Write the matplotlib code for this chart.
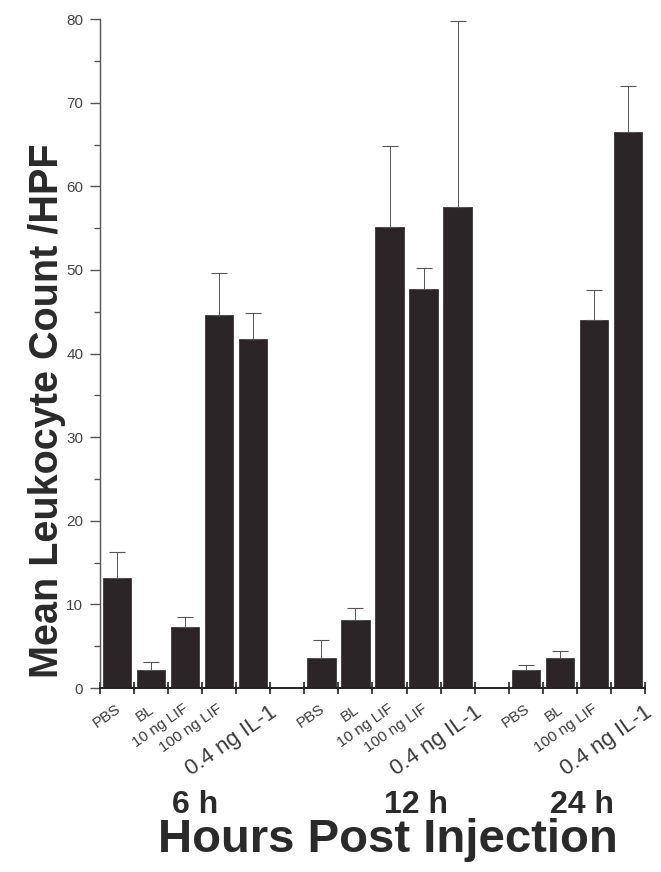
import numpy as np
import matplotlib.pyplot as plt
from matplotlib import transforms
from matplotlib.ticker import MultipleLocator

plt.rcParams["font.family"] = ["Liberation Sans", "DejaVu Sans"]

# data
times = ["6 h", "12 h", "24 h"]
labels_6h = ["PBS", "BL", "10 ng LIF", "100 ng LIF", "0.4 ng IL-1"]
labels_12h = ["PBS", "BL", "10 ng LIF", "100 ng LIF", "0.4 ng IL-1"]
labels_24h = ["PBS", "BL", "100 ng LIF", "0.4 ng IL-1"]
means_6h = [13.2, 2.2, 7.3, 44.6, 41.8]
means_12h = [3.6, 8.1, 55.1, 47.7, 57.5]
means_24h = [2.2, 3.6, 44.0, 66.5]
err_6h = [3.1, 0.9, 1.2, 5.1, 3.0]
err_12h = [2.1, 1.5, 9.7, 2.5, 22.3]
err_24h = [0.5, 0.8, 3.6, 5.5]

groups = [
    (labels_6h, means_6h, err_6h),
    (labels_12h, means_12h, err_12h),
    (labels_24h, means_24h, err_24h),
]

bar_color = "#2b2527"
text_color = "#2a2a2a"

fig = plt.figure(figsize=(6.61, 8.72), dpi=100)
ax = fig.add_axes([0.151, 0.211, 0.825, 0.767])

# lay the groups out with one empty slot between them
pos, labs, vals, errs, centers = [], [], [], [], []
offset = 0
for labels, means, err in groups:
    p = offset + np.arange(len(labels))
    pos.extend(p)
    labs.extend(labels)
    vals.extend(means)
    errs.extend(err)
    centers.append(p.mean())
    offset += len(labels) + 1
n_slots = offset - 1

ax.bar(pos, vals, width=0.84, color=bar_color, edgecolor=bar_color, linewidth=0.5)
ax.errorbar(pos, vals, yerr=[np.zeros(len(errs)), errs], fmt="none",
            ecolor="#555555", elinewidth=0.7, capsize=6, capthick=0.8)

ax.set_xlim(-0.5, n_slots - 0.5)
ax.set_ylim(0, 80)
ax.set_xticks(np.arange(-0.5, n_slots, 1.0))
ax.set_xticklabels([])
ax.yaxis.set_major_locator(MultipleLocator(10))
ax.yaxis.set_minor_locator(MultipleLocator(5))

for s in ["top", "right"]:
    ax.spines[s].set_visible(False)
ax.spines["left"].set_color("#555555")
ax.spines["left"].set_linewidth(1.0)
ax.spines["bottom"].set_color("#222222")
ax.spines["bottom"].set_linewidth(1.4)

ax.tick_params(axis="x", direction="inout", length=8, width=1.2, color="#222222")
ax.tick_params(axis="y", which="major", direction="out", length=7, width=1.0,
               color="#555555", labelsize=11, labelcolor="#444444", pad=5)
ax.tick_params(axis="y", which="minor", direction="out", length=4, width=1.0,
               color="#555555")

# rotated treatment labels, anchored at their right end just under the axis
for x, lab in zip(pos, labs):
    big = lab.startswith("0.4")
    shift = transforms.ScaledTranslation(0.16 if big else -0.02, -0.14, fig.dpi_scale_trans)
    ax.text(x, 0, lab, transform=ax.get_xaxis_transform() + shift,
            rotation=35, rotation_mode="anchor", ha="right", va="top",
            fontsize=16 if big else 11, color="#3a3a3a")

nudge = [0.29, 0.78, 0.15]
for c, t, d in zip(centers, times, nudge):
    ax.text(c + d, -0.187, t, transform=ax.get_xaxis_transform(),
            ha="center", va="baseline", fontsize=23, fontweight="bold", color=text_color)

fig.text(0.587, 0.023, "Hours Post Injection", ha="center", va="baseline",
         fontsize=34, fontweight="bold", color=text_color)
fig.text(0.088, 0.529, "Mean Leukocyte Count /HPF", ha="center", va="baseline",
         rotation=90, rotation_mode="anchor", fontsize=28.5, fontweight="bold",
         color=text_color)

fig.savefig("out.png", dpi=100)
